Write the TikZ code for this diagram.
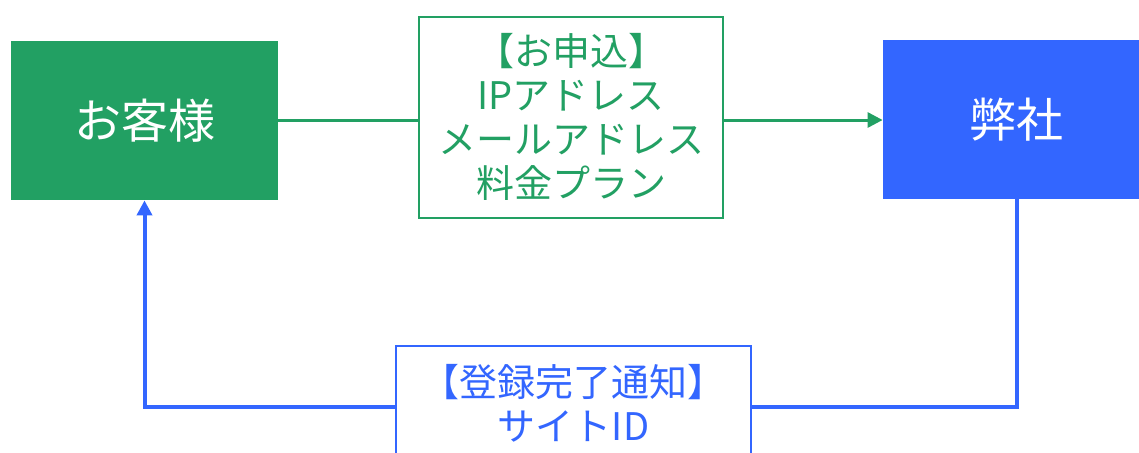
\documentclass[tikz,border=0pt]{standalone}
\usepackage{fontspec}
\setmainfont{Noto Sans CJK JP}
\usetikzlibrary{arrows.meta}

\definecolor{kgreen}{RGB}{34,160,99}
\definecolor{kblue}{RGB}{51,102,255}

\tikzset{
	party/.style={minimum width=133.5pt, minimum height=79.5pt, inner sep=0pt,
		text=white, font=\fontsize{23.5}{28}\selectfont},
	memo/.style={draw, fill=white, align=center, inner sep=0pt, line width=1pt,
		font=\fontsize{19}{22}\selectfont},
	flow/.style={line width=1.5pt, -{Triangle[length=7.5pt, width=7.5pt]}},
}

\begin{document}
\begin{tikzpicture}[x=0.5pt, y=-0.5pt]

		\useasboundingbox (0,0) rectangle (1139,452);

		\node[party, fill=kgreen] (kyaku) at (144.5,120.5) {お客様};
		\node[party, fill=kblue] (heisha) at (1016.5,119.5) {弊社};

		\draw[flow, kgreen] (kyaku.east |- 0,120) -- (heisha.west |- 0,120);

		\coordinate (kaeri) at (144.5,407);
		\draw[flow, kblue, line width=2pt] (heisha.south) |- (kaeri) -- (kyaku.south);

		\node[memo, draw=kgreen, text=kgreen, minimum width=152pt, minimum height=100.5pt]
			(moushikomi) at (571,117) {【お申込】\\IPアドレス\\メールアドレス\\料金プラン};

		\node[memo, draw=kblue, text=kblue, minimum width=177.5pt, minimum height=57pt, anchor=north]
			(tsuchi) at (573.5,345) {【登録完了通知】\\サイトID};

\end{tikzpicture}
\end{document}
